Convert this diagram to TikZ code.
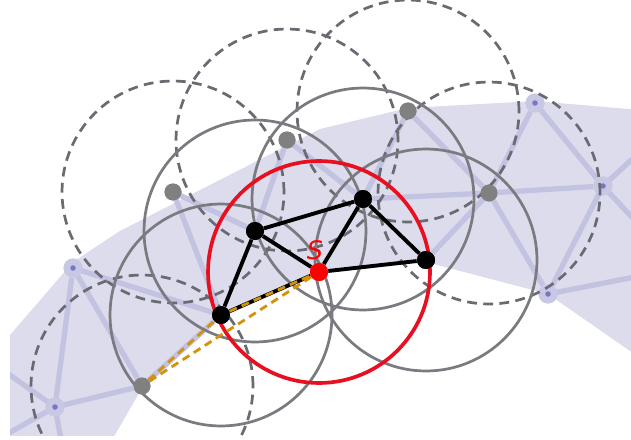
\documentclass[tikz,border=0pt]{standalone}
\usepackage{fontspec}
\newfontfamily\labelfont{DejaVu Sans}
\definecolor{bandfill}{RGB}{220,220,236}
\definecolor{meshline}{RGB}{194,194,225}
\definecolor{meshnode}{RGB}{200,200,229}
\definecolor{meshcore}{RGB}{120,120,188}
\definecolor{rangegray}{RGB}{122,122,128}
\definecolor{dashgray}{RGB}{106,106,114}
\definecolor{hopgold}{RGB}{212,146,10}
\definecolor{sinkred}{RGB}{232,16,32}

\begin{document}
\begin{tikzpicture}[
  x=0.02cm,
  y=-0.02cm,
  far/.style={
    circle,
    fill=meshnode,
    minimum size=0.38cm,
    inner sep=0pt,
    path picture={
      \fill[meshcore] (path picture bounding box.center) circle[radius=0.055cm];
    }
  },
  relay/.style={
    circle,
    fill=gray,
    minimum size=0.34cm,
    inner sep=0pt
  },
  sensor/.style={
    circle,
    fill=black,
    minimum size=0.36cm,
    inner sep=0pt
  },
  sink/.style={
    circle,
    fill=red,
    minimum size=0.36cm,
    inner sep=0pt
  },
  mesh/.style={
    meshline,
    line width=3pt
  },
  reach/.style={
    rangegray,
    line width=1.55pt
  },
  farreach/.style={
    dashgray,
    line width=1.55pt,
    dash pattern=on 5.6pt off 3.6pt
  },
  link/.style={
    black,
    line width=2.2pt
  },
  hop/.style={
    hopgold,
    line width=1.6pt,
    dash pattern=on 4.5pt off 3pt
  }
]

\useasboundingbox (0,0) rectangle (631,439);
\clip (10,0) rectangle (631,435);

% =========================================================
% BANDA
% =========================================================

\fill[bandfill]
  (10,335) -- (73,262) -- (120,231) -- (200,190) -- (320,129)
  -- (408,108) -- (535,101) -- (640,110)
  -- (640,358) -- (548,294) -- (426,262) -- (319,274)
  -- (221,317) -- (142,388) -- (112,440) -- (10,440) -- cycle;

% =========================================================
% NODOS
% =========================================================

\node[far] (l1) at (73,268) {};
\node[far] (l2) at (55,407) {};
\node[far] (l3) at (535,103) {};
\node[far] (l4) at (603,186) {};
\node[far] (l5) at (548,294) {};

\coordinate (o1) at (0,368);
\coordinate (o2) at (0,438);
\coordinate (o3) at (63,450);
\coordinate (o4) at (640,152);
\coordinate (o5) at (640,226);
\coordinate (o6) at (640,276);

\node[relay] (g1) at (173,192) {};
\node[relay] (g2) at (287,140) {};
\node[relay] (g3) at (408,111) {};
\node[relay] (g4) at (489,193) {};
\node[relay] (g5) at (142,386) {};

\node[sensor] (a) at (255,231) {};
\node[sensor] (b) at (363,199) {};
\node[sensor] (c) at (426,260) {};
\node[sensor] (d) at (221,315) {};
\node[sink]   (s) at (319,272) {};

% =========================================================
% MALLA
% =========================================================

\foreach \u/\v in {l2/o1, l2/o2, l2/o3, l2/l1, l2/g5, l1/g5, l1/d,
                   g1/d, g1/a, g2/a, g2/b, g3/b, g3/g4, b/g4,
                   g4/c, g4/l5, g4/l4, g4/l3, l3/l4, l4/l5,
                   l4/o4, l4/o5, l5/o6, g5/d}
  \draw[mesh] (\u.center) -- (\v);

\foreach \n in {l1, l2, l3, l4, l5}
  \node[far] at (\n) {};

% =========================================================
% ALCANCES
% =========================================================

\foreach \n in {g1, g2, g3, g4, g5}
  \draw[farreach] (\n) circle[radius=2.22cm];

\foreach \n in {a, b, c, d}
  \draw[reach] (\n) circle[radius=2.22cm];

\draw[sinkred, line width=2.1pt] (s) circle[radius=2.22cm];

% =========================================================
% ENLACES
% =========================================================

\foreach \u/\v in {a/b, a/s, a/d, b/s, b/c, s/c, d/s}
  \draw[link] (\u) -- (\v);

\draw[hop] (d) -- (s);
\draw[hop] (g5) -- (d);
\draw[hop] (g5) -- (s);

\foreach \n in {g1, g2, g3, g4, g5}
  \node[relay] at (\n) {};
\foreach \n in {a, b, c, d}
  \node[sensor] at (\n) {};
\node[sink] at (s) {};

\node[text=red, font=\labelfont\itshape\fontsize{14.5}{14.5}\selectfont]
  (slbl) at (315,250) {S};

\end{tikzpicture}
\end{document}
